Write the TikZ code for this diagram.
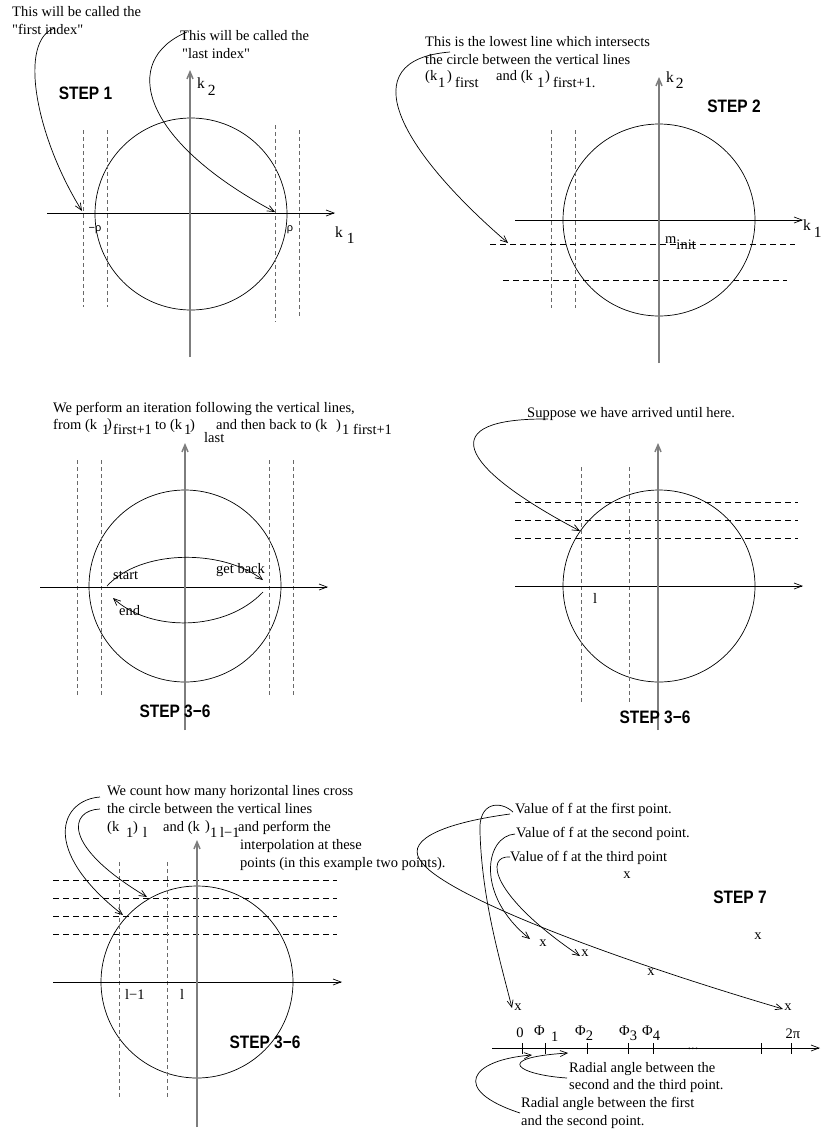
\documentclass[tikz,border=0pt]{standalone}
\usepackage{fontspec}
\setmainfont{Liberation Serif}
\setsansfont{Liberation Sans}
\newfontfamily\qfont{Liberation Serif}
\usetikzlibrary{arrows.meta}
\definecolor{axgray}{RGB}{125,125,125}
\definecolor{dgray}{RGB}{105,105,105}
\newcommand\sqz[1]{\scalebox{0.86}[1]{#1}}
\newcommand\dq{{\qfont\symbol{34}}}
\tikzset{
  txt/.style={font=\fontsize{14.5}{16}\selectfont, inner sep=0pt, anchor=base west},
  ctxt/.style={font=\fontsize{14.5}{16}\selectfont, inner sep=0pt, anchor=center},
  lab/.style={font=\fontsize{15.5}{17}\selectfont, inner sep=0pt, anchor=base west},
  stp/.style={font=\fontsize{18}{20}\sffamily\bfseries\selectfont, inner sep=0pt, anchor=center},
  rholab/.style={font=\fontsize{11}{12}\sffamily\selectfont, inner sep=0pt, anchor=center},
  arr/.style={line width=0.7pt, -{Straight Barb[length=7pt,width=6pt]}},
  vax/.style={draw=axgray, line width=1.5pt, -{Straight Barb[length=7pt,width=6pt]}},
  hax/.style={draw=black, line width=0.7pt, -{Straight Barb[length=8pt,width=6pt]}},
  vdash/.style={draw=dgray, line width=1pt, dash pattern=on 4pt off 3pt},
  hdash/.style={draw=black, line width=0.7pt, dash pattern=on 6pt off 4pt},
  ring/.style={draw, circle, line width=0.7pt, minimum size=192pt, inner sep=0pt},
  tick/.style={line width=0.7pt}
}
\begin{document}
\begin{tikzpicture}[x=1pt,y=-1pt]
\useasboundingbox (0,0) rectangle (822,1133);
\fill[white] (0,0) rectangle (822,1133);

%% ---------------- Panel 1 ----------------
\node[ring] (C1) at (191,214) {};
\foreach \xx/\ya/\yb in {83/130/307,107/130/307,275/125/322,299/130/317}
  \draw[vdash] (\xx,\ya) -- (\xx,\yb);
\coordinate (h1l) at (47,213); \coordinate (h1r) at (335,213);
\draw[hax] (h1l) -- (h1r);
\coordinate (v1b) at (190,357); \coordinate (v1t) at (190,70);
\draw[vax] (v1b) -- (v1t);
\node[txt] (t1a) at (12,16) {This will be called the};
\node[txt] (t1b) at (12,34) {\dq first index\dq};
\node[txt] (t1c) at (180,40) {This will be called the};
\node[txt] (t1d) at (182,58) {\dq last index\dq};
\node[stp] (s1) at (85.5,93.5) {\sqz{STEP 1}};
\node[lab] (k2p1) at (197,88) {k\hspace{3pt}\raisebox{-7pt}{2}};
\node[lab] (k1p1) at (335,237) {k\hspace{4pt}\raisebox{-6pt}{1}};
\node[rholab] (mrho) at (95,230) {−ρ};
\node[rholab] (prho) at (290,230) {ρ};
\coordinate (a1s) at (55,28); \coordinate (a1e) at (82,211);
\draw[arr] (a1s) .. controls (18,40) and (35,135) .. (a1e);
\coordinate (b1s) at (187,32); \coordinate (b1e) at (275,212);
\draw[arr] (b1s) .. controls (120,60) and (140,140) .. (b1e);

%% ---------------- Panel 2 ----------------
\node[ring] (C2) at (659,220) {};
\foreach \xx in {551,575} \draw[vdash] (\xx,130) -- (\xx,308);
\draw[hdash] (490,244) -- (795,244);
\draw[hdash] (503,280) -- (787,280);
\coordinate (h2l) at (515,220); \coordinate (h2r) at (803,220);
\draw[hax] (h2l) -- (h2r);
\coordinate (v2b) at (659,363); \coordinate (v2t) at (659,77);
\draw[vax] (v2b) -- (v2t);
\node[txt] (t2a) at (425,46) {This is the lowest line which intersects};
\node[txt] (t2b) at (425,64) {the circle between the vertical lines};
\node[txt] (t2c) at (425,80) {(k};
\node[txt] (t2d) at (438,87) {1};
\node[txt] (t2e) at (447,80) {)};
\node[txt] (t2f) at (455,87) {first};
\node[txt] (t2g) at (496,80) {and (k};
\node[txt] (t2h) at (537,87) {1};
\node[txt] (t2i) at (545,80) {)};
\node[txt] (t2j) at (553,87) {first+1.};
\node[stp] (s2) at (734,106) {\sqz{STEP 2}};
\node[lab] (k2p2) at (666,82) {k\hspace{2pt}\raisebox{-6pt}{2}};
\node[lab] (k1p2) at (803,230) {k\hspace{3pt}\raisebox{-7pt}{1}};
\node[txt] (minit) at (665,243) {m\raisebox{-6pt}{init}};
\coordinate (a2s) at (450,52); \coordinate (a2e) at (508,243);
\draw[arr] (a2s) .. controls (350,60) and (400,150) .. (a2e);

%% ---------------- Panel 3 ----------------
\node[ring] (C3) at (185,586) {};
\foreach \xx in {77,101,269,293} \draw[vdash] (\xx,460) -- (\xx,695);
\coordinate (h3l) at (40,587); \coordinate (h3r) at (328,587);
\draw[hax] (h3l) -- (h3r);
\coordinate (v3b) at (185,730); \coordinate (v3t) at (185,443);
\draw[vax] (v3b) -- (v3t);
\node[txt] (t3a) at (53,412) {We perform an iteration following the vertical lines,};
\node[txt] (t3b) at (53,429) {from (k};
\node[txt] (t3c) at (102,434) {1};
\node[txt] (t3d) at (107,428) {)};
\node[txt] (t3e) at (113,434) {first+1};
\node[txt] (t3f) at (155,429) {to (k};
\node[txt] (t3g) at (184,434) {1};
\node[txt] (t3h) at (190,429) {)};
\node[txt] (t3i) at (204,442) {last};
\node[txt] (t3j) at (216,429) {and then back to (k};
\node[txt] (t3k) at (336,429) {)};
\node[txt] (t3l) at (342,434) {1};
\node[txt] (t3m) at (353,434) {first+1};
\node[txt] (start) at (113,579) {start};
\node[txt] (getback) at (216,573) {get back};
\node[txt] (endl) at (119,615) {end};
\coordinate (a3s) at (107,586); \coordinate (a3e) at (263,580);
\draw[arr] (a3s) .. controls (140,550) and (220,548) .. (a3e);
\coordinate (b3s) at (263,592); \coordinate (b3e) at (113,598);
\draw[arr] (b3s) .. controls (225,632) and (150,632) .. (b3e);
\node[stp] (s3) at (175,711) {\sqz{STEP 3−6}};

%% ---------------- Panel 4 ----------------
\node[ring] (C4) at (659,586) {};
\foreach \yy in {502,520,538} \draw[hdash] (515,\yy) -- (798,\yy);
\foreach \xx in {581,629} \draw[vdash] (\xx,467) -- (\xx,702);
\coordinate (h4l) at (515,586); \coordinate (h4r) at (803,586);
\draw[hax] (h4l) -- (h4r);
\coordinate (v4b) at (658,730); \coordinate (v4t) at (658,443);
\draw[vax] (v4b) -- (v4t);
\node[txt] (t4a) at (527,417) {Suppose we have arrived until here.};
\node[txt] (l4) at (593,603) {l};
\coordinate (a4s) at (548,419); \coordinate (a4e) at (580,531);
\draw[arr] (a4s) .. controls (435,418) and (455,465) .. (a4e);
\node[stp] (s4) at (655,717) {\sqz{STEP 3−6}};

%% ---------------- Panel 5 ----------------
\node[ring] (C5) at (197,982) {};
\foreach \yy in {880,898,916,934} \draw[hdash] (53,\yy) -- (337,\yy);
\foreach \xx in {119,167} \draw[vdash] (\xx,862) -- (\xx,1098);
\coordinate (h5l) at (53,982); \coordinate (h5r) at (342,982);
\draw[hax] (h5l) -- (h5r);
\coordinate (v5b) at (197,1127); \coordinate (v5t) at (197,840);
\draw[vax] (v5b) -- (v5t);
\node[txt] (t5a) at (107,795) {We count how many horizontal lines cross};
\node[txt] (t5b) at (107,813) {the circle between the vertical lines};
\node[txt] (t5c) at (107,831) {(k};
\node[txt] (t5d) at (126,837) {1};
\node[txt] (t5e) at (133,831) {)};
\node[txt] (t5f) at (143,837) {l};
\node[txt] (t5g) at (163,831) {and (k};
\node[txt] (t5h) at (205,830) {)};
\node[txt] (t5i) at (210,837) {1};
\node[txt] (t5j) at (220,837) {l−1};
\node[txt] (t5k) at (238,831) {and perform the};
\node[txt] (t5l) at (240,849) {interpolation at these};
\node[txt] (t5m) at (240,867) {points (in this example two points).};
\node[txt] (l5a) at (125,999) {l−1};
\node[txt] (l5b) at (180,999) {l};
\coordinate (a5s) at (100,797); \coordinate (a5e) at (123,915);
\draw[arr] (a5s) .. controls (60,800) and (40,850) .. (a5e);
\coordinate (b5s) at (100,809); \coordinate (b5e) at (147,897);
\draw[arr] (b5s) .. controls (70,810) and (60,845) .. (b5e);
\node[stp] (s5) at (265,1042) {\sqz{STEP 3−6}};

%% ---------------- Panel 6 ----------------
\node[txt] (v1) at (515,813) {Value of f at the first point.};
\node[txt] (v2) at (516,837) {Value of f at the second point.};
\node[txt] (v3) at (510,861) {Value of f at the third point};
\node[ctxt] (x1) at (627,875) {x};
\node[ctxt] (x2) at (543,943) {x};
\node[ctxt] (x3) at (585,953) {x};
\node[ctxt] (x4) at (651,972) {x};
\node[ctxt] (x5) at (758,936) {x};
\node[ctxt] (x6) at (518,1007) {x};
\node[ctxt] (x7) at (788,1007) {x};
\node[stp] (s6) at (740,897) {\sqz{STEP 7}};
\coordinate (ax6l) at (492,1048); \coordinate (ax6r) at (820,1048);
\draw[hax] (ax6l) -- (ax6r);
\foreach \xx in {522,545,587,628,653,761,791} \draw[tick] (\xx,1043) -- (\xx,1054);
\node[ctxt] (ph0) at (520,1033) {0};
\node[txt] (ph1) at (534,1035) {Φ};
\node[txt] (ph1s) at (551,1041) {1};
\node[txt] (ph2) at (575,1035) {Φ\raisebox{-5pt}{2}};
\node[txt] (ph3) at (619,1035) {Φ\raisebox{-5pt}{3}};
\node[txt] (ph4) at (642,1035) {Φ\raisebox{-5pt}{4}};
\node[ctxt] (dots) at (693,1049) {...};
\node[ctxt] (tpi) at (793,1034) {2π};
\node[txt] (r1) at (569,1072) {Radial angle between the};
\node[txt] (r2) at (569,1089) {second and the third point.};
\node[txt] (r3) at (521,1107) {Radial angle between the first};
\node[txt] (r4) at (521,1125) {and the second point.};
% curves from value labels
\coordinate (aAs) at (510,814); \coordinate (aAm) at (420,860); \coordinate (aAe) at (783,1009);
\draw[arr] (aAs) .. controls (450,822) and (405,838) .. (aAm) .. controls (440,893) and (600,955) .. (aAe);
\coordinate (aBs) at (513,812); \coordinate (aBm) at (480,832); \coordinate (aBe) at (512,1008);
\draw[arr] (aBs) .. controls (500,800) and (478,802) .. (aBm) .. controls (482,900) and (500,960) .. (aBe);
\coordinate (aCs) at (515,834); \coordinate (aCe) at (530,939);
\draw[arr] (aCs) .. controls (485,836) and (475,895) .. (aCe);
\coordinate (aDs) at (510,857); \coordinate (aDe) at (580,956);
\draw[arr] (aDs) .. controls (485,855) and (490,895) .. (aDe);
% curves from radial angle labels
\coordinate (aEs) at (567,1078); \coordinate (aEe) at (568,1053);
\draw[arr] (aEs) .. controls (520,1075) and (490,1058) .. (aEe);
\coordinate (aFs) at (520,1113); \coordinate (aFe) at (532,1055);
\draw[arr] (aFs) .. controls (450,1090) and (470,1060) .. (aFe);
\end{tikzpicture}
\end{document}
